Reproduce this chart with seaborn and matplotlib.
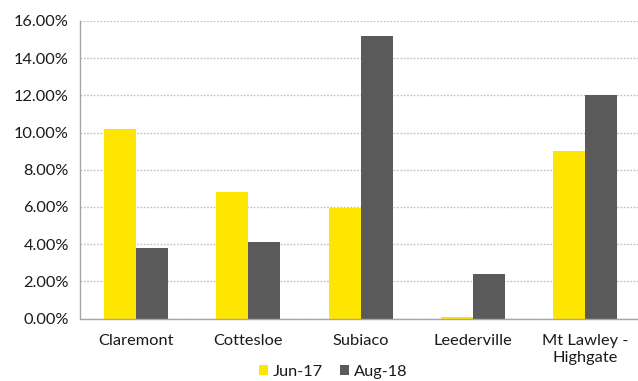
import matplotlib
matplotlib.use("Agg")
import matplotlib.pyplot as plt
import matplotlib.ticker as mticker
import pandas as pd
import seaborn as sns

suburbs = ["Claremont", "Cottesloe", "Subiaco", "Leederville", "Mt Lawley -\nHighgate"]
jun_17 = [10.18, 6.82, 5.94, 0.08, 9.02]
aug_18 = [3.80, 4.13, 15.19, 2.38, 12.03]
series_names = ["Jun-17", "Aug-18"]
colors = ["#FFE600", "#5A5A5A"]
y_ticks = [0, 2, 4, 6, 8, 10, 12, 14, 16]

df = pd.DataFrame({
    "Suburb": suburbs * 2,
    "Value": jun_17 + aug_18,
    "Period": [series_names[0]] * len(suburbs) + [series_names[1]] * len(suburbs),
})

sns.set_style("white")
plt.rcParams["font.family"] = ["Lato", "DejaVu Sans"]
text_color = "#1a1a1a"
axis_color = "#a6a6a6"

fig = plt.figure(figsize=(6.38, 3.81), dpi=100)
ax = fig.add_axes([80 / 638, 1 - 318.5 / 381, 561.5 / 638, (318.5 - 21) / 381])

sns.barplot(data=df, x="Suburb", y="Value", hue="Period", order=suburbs,
            hue_order=series_names, palette=colors, width=0.57, gap=0,
            saturation=1, ax=ax, legend=True)
for p in ax.patches:
    p.set_linewidth(0)

ax.set_xlim(-0.5, len(suburbs) - 0.5)
ax.set_ylim(0, 16)
ax.set_yticks(y_ticks)
ax.yaxis.set_major_formatter(mticker.FuncFormatter(lambda v, _: f"{v:.2f}%"))
ax.set_xlabel("")
ax.set_ylabel("")

# tick marks sit between categories, labels at category centres
ax.set_xticks([i - 0.5 for i in range(len(suburbs) + 1)])
ax.set_xticklabels([])
ax.set_xticks(range(len(suburbs)), minor=True)
ax.set_xticklabels(suburbs, minor=True, fontsize=11.8, color=text_color,
                   linespacing=1.25, va="top")
ax.tick_params(axis="x", which="major", length=5, width=1, color=axis_color, direction="out")
ax.tick_params(axis="x", which="minor", length=0, pad=11)
ax.tick_params(axis="y", length=5, width=1, color=axis_color, direction="out",
               labelsize=11.8, labelcolor=text_color, pad=3)

ax.grid(axis="y", color="#bfbfbf", linestyle=(0, (1.2, 1.2)), linewidth=1)
ax.set_axisbelow(True)
for side in ["top", "right"]:
    ax.spines[side].set_visible(False)
for side in ["left", "bottom"]:
    ax.spines[side].set_color(axis_color)
    ax.spines[side].set_linewidth(1)

handles, labels = ax.get_legend_handles_labels()
ax.legend_.remove()
fig.legend(handles, labels, loc="center", bbox_to_anchor=(333 / 638, 1 - 372 / 381),
           ncol=2, frameon=False, fontsize=11.8, handlelength=0.55, handleheight=0.55,
           handletextpad=0.3, columnspacing=1.05, labelcolor=text_color)

fig.savefig("out.png", dpi=100)
